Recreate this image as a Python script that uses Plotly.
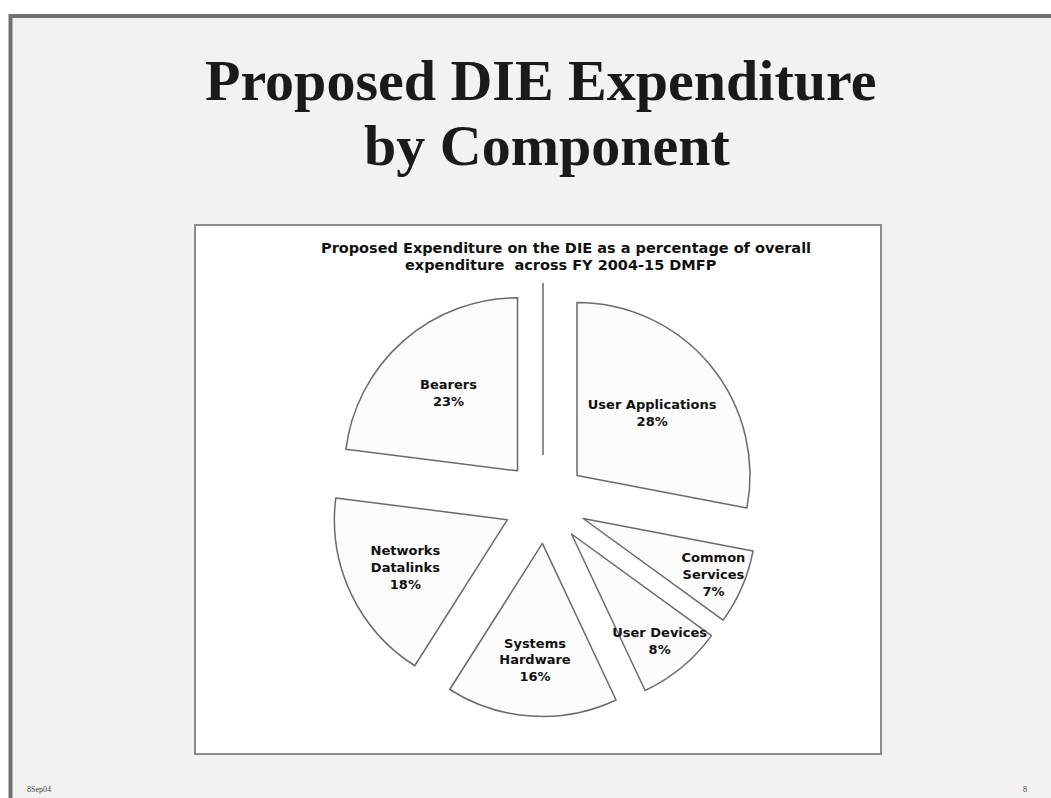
import plotly.graph_objects as go

W, H = 1051, 798

# ---- data ----
categories = ["User Applications", "Common Services", "User Devices",
              "Systems Hardware", "Networks Datalinks", "Bearers"]
label_lines = ["User Applications", "Common<br>Services", "User Devices",
               "Systems<br>Hardware", "Networks<br>Datalinks", "Bearers"]
shares = [28, 7, 8, 16, 18, 23]

slide_title = ["Proposed DIE Expenditure", "by Component"]
chart_title = ["Proposed Expenditure on the DIE as a percentage of overall",
               "expenditure  across FY 2004-15 DMFP"]
footer_left = "8Sep04"
footer_right = "8"


def px(x):
    return x / W


def py(y):
    return 1 - y / H


# pie geometry (pixels)
cx, cy, r, pull = 545, 502, 173, 0.24
half = r * (1 + pull)

fig = go.Figure()
fig.add_trace(go.Pie(
    labels=categories,
    values=shares,
    text=label_lines,
    texttemplate="%{text}<br>%{value}%",
    textposition="inside",
    insidetextorientation="horizontal",
    sort=False,
    direction="clockwise",
    rotation=0,
    pull=[pull] * len(shares),
    marker=dict(colors=["#fcfcfc"] * len(shares),
                line=dict(color="#6a6a6a", width=1.5)),
    textfont=dict(family="DejaVu Sans", size=13, color="#111111", weight="bold"),
    hoverinfo="label+percent",
    showlegend=False,
    domain=dict(x=[px(cx - half), px(cx + half)],
                y=[py(cy + half), py(cy - half)]),
))

shapes = [
    # slide background with border
    dict(type="rect", xref="paper", yref="paper", layer="below",
         x0=px(10.5), x1=px(1070), y0=py(16), y1=py(820),
         fillcolor="#f2f2f2", line=dict(color="#707070", width=4)),
    # chart box
    dict(type="rect", xref="paper", yref="paper", layer="below",
         x0=px(195), x1=px(881), y0=py(225), y1=py(754),
         fillcolor="#ffffff", line=dict(color="#8c8c8c", width=2)),
    # thin vertical line in the gap
    dict(type="line", xref="paper", yref="paper", layer="above",
         x0=px(543), x1=px(543), y0=py(283), y1=py(455),
         line=dict(color="#6a6a6a", width=1.5)),
]

annotations = [
    dict(text=slide_title[0], x=px(540), y=py(81), xref="paper", yref="paper",
         showarrow=False, xanchor="center", yanchor="middle",
         font=dict(family="Liberation Serif", size=58, color="#1a1a1a", weight="bold")),
    dict(text=slide_title[1], x=px(547), y=py(146), xref="paper", yref="paper",
         showarrow=False, xanchor="center", yanchor="middle",
         font=dict(family="Liberation Serif", size=58, color="#1a1a1a", weight="bold")),
    dict(text=chart_title[0], x=px(566), y=py(248), xref="paper", yref="paper",
         showarrow=False, xanchor="center", yanchor="middle",
         font=dict(family="DejaVu Sans", size=14.5, color="#111111", weight="bold")),
    dict(text=chart_title[1], x=px(561), y=py(265), xref="paper", yref="paper",
         showarrow=False, xanchor="center", yanchor="middle",
         font=dict(family="DejaVu Sans", size=14.5, color="#111111", weight="bold")),
    dict(text=footer_left, x=px(25), y=py(789), xref="paper", yref="paper",
         showarrow=False, xanchor="left", yanchor="middle",
         font=dict(family="Liberation Serif", size=8, color="#444444")),
    dict(text=footer_right, x=px(1025), y=py(789), xref="paper", yref="paper",
         showarrow=False, xanchor="center", yanchor="middle",
         font=dict(family="Liberation Serif", size=8, color="#444444")),
]

fig.update_layout(
    width=W, height=H,
    margin=dict(l=0, r=0, t=0, b=0),
    paper_bgcolor="#ffffff",
    plot_bgcolor="#ffffff",
    shapes=shapes,
    annotations=annotations,
    showlegend=False,
    uniformtext=dict(minsize=13, mode="show"),
)

fig.write_html("out.html",
               config={"displayModeBar": False},
               post_script="document.body.style.margin='0';document.body.style.padding='0';")
